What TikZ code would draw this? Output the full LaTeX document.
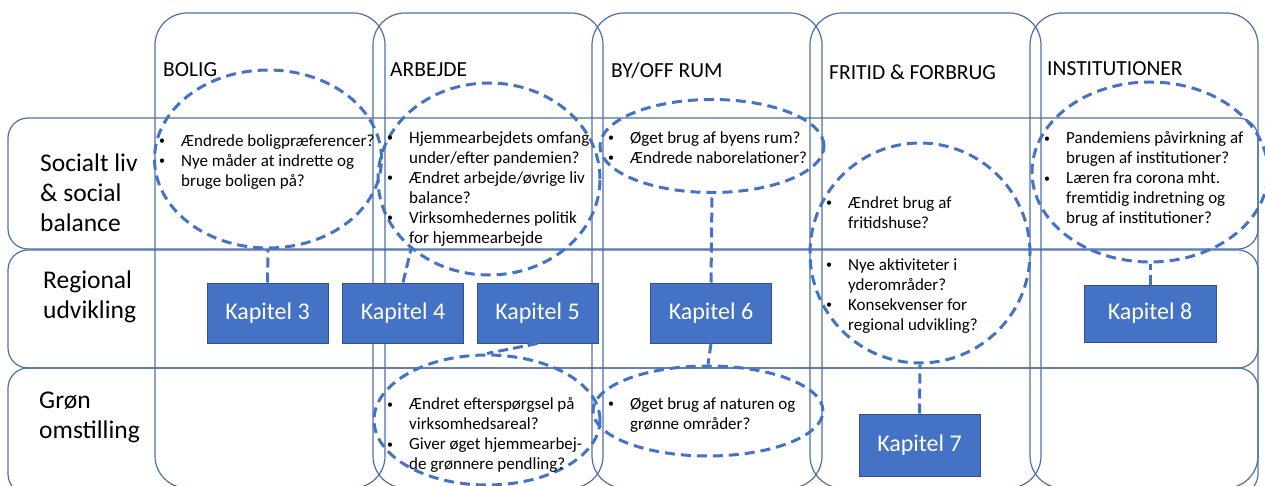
\documentclass[tikz,border=0pt]{standalone}
\usepackage{fontspec}
\setmainfont{Carlito}
\usetikzlibrary{shapes.geometric,positioning}
\definecolor{kapblue}{HTML}{4472C4}
\definecolor{kapline}{HTML}{2F528F}
\definecolor{gridline}{HTML}{4E6EA6}
\newcommand{\pkt}{\llap{\raisebox{1.2pt}{\fontsize{12}{12}\selectfont\textbullet}\hspace{16pt}}}

\begin{document}
\begin{tikzpicture}[x=1pt,y=1pt,
    band/.style={draw=gridline, line width=1.2pt},
    tema/.style={ellipse, draw=kapblue, line width=3pt, dash pattern=on 10pt off 6pt},
    link/.style={draw=kapblue, line width=3pt, dash pattern=on 10pt off 5pt},
    kap/.style={rectangle, fill=kapblue, draw=kapline, line width=1pt, text=white,
      font=\fontsize{24}{28}\selectfont, minimum width=121pt, minimum height=60pt},
    punkt/.style={anchor=north west, align=left, font=\fontsize{17}{20}\selectfont},
    rowlbl/.style={anchor=west, align=left, font=\fontsize{25.5}{30}\selectfont},
    colhead/.style={anchor=west, font=\fontsize{21.5}{24}\selectfont}]
                \tikzstyle{every node}+=[inner sep=0pt]
                \useasboundingbox (0,0) rectangle (1265,-486);
                \clip (0,0) rectangle (1265,-486);
                \draw [band, rounded corners=20pt] (8,-118) rectangle (1258,-249);
                \draw [band, rounded corners=20pt] (8,-250) rectangle (1258,-368);
                \draw [band, rounded corners=20pt] (8,-368) rectangle (1258,-494);
                \draw [band, rounded corners=32pt] (155,-13) rectangle (385,-488);
                \draw [band, rounded corners=32pt] (373,-13) rectangle (603,-488);
                \draw [band, rounded corners=32pt] (592,-13) rectangle (822,-488);
                \draw [band, rounded corners=32pt] (810,-13) rectangle (1041,-488);
                \draw [band, rounded corners=32pt] (1030,-13) rectangle (1258,-488);
                \node [rowlbl] (socialt) at (40,-193) {Socialt liv\\\& social\\balance};
                \node [rowlbl] (regional) at (43,-297) {Regional\\udvikling};
                \node [rowlbl] (groen) at (39,-417) {Grøn\\omstilling};
                \node [colhead] (bolig) at (163,-70) {BOLIG};
                \node [colhead] (arbejde) at (390,-70) {ARBEJDE};
                \node [colhead] (byrum) at (611,-70) {BY/OFF RUM};
                \node [colhead] (fritid) at (829,-72) {FRITID \& FORBRUG};
                \node [colhead] (inst) at (1047,-69) {INSTITUTIONER};
                \node [tema, minimum width=227pt, minimum height=178pt] (eBolig) at (268,-159) {};
                \node [tema, minimum width=222pt, minimum height=192pt] (eArbejde) at (489,-179) {};
                \node [tema, minimum width=224pt, minimum height=93pt] (eByrum) at (712,-146) {};
                \node [tema, minimum width=220pt, minimum height=220pt] (eFritid) at (920,-253) {};
                \node [tema, minimum width=236pt, minimum height=180pt] (eInst) at (1150,-172) {};
                \node [tema, minimum width=226pt, minimum height=130pt] (eGronArb) at (487,-420) {};
                \node [tema, minimum width=230pt, minimum height=90pt] (eGronBy) at (708,-411) {};
                \node [punkt] (tBolig) at (181,-134) {\pkt Ændrede boligpræferencer?\\\pkt Nye måder at indrette og\\bruge boligen på?};
                \node [punkt] (tArbejde) at (409,-131) {\pkt Hjemmearbejdets omfang\\under/efter pandemien?\\\pkt Ændret arbejde/øvrige liv\\balance?\\\pkt Virksomhedernes politik\\for hjemmearbejde};
                \node [punkt] (tByrum) at (630,-131) {\pkt Øget brug af byens rum?\\\pkt Ændrede naborelationer?};
                \node [punkt] (tFritidA) at (848,-196) {\pkt Ændret brug af\\fritidshuse?};
                \node [punkt] (tFritidB) at (848,-258) {\pkt Nye aktiviteter i\\yderområder?\\\pkt Konsekvenser for\\regional udvikling?};
                \node [punkt] (tInst) at (1066,-131) {\pkt Pandemiens påvirkning af\\brugen af institutioner?\\\pkt Læren fra corona mht.\\fremtidig indretning og\\brug af institutioner?};
                \node [punkt] (tGronArb) at (409,-397) {\pkt Ændret efterspørgsel på\\virksomhedsareal?\\\pkt Giver øget hjemmearbej-\\de grønnere pendling?};
                \node [punkt] (tGronBy) at (630,-397) {\pkt Øget brug af naturen og\\grønne områder?};
                \node [kap] (kap3) at (267.5,-313) {Kapitel 3};
                \node [kap] (kap4) at (403,-313) {Kapitel 4};
                \node [kap] (kap5) at (537.5,-313) {Kapitel 5};
                \node [kap] (kap6) at (711,-313) {Kapitel 6};
                \node [kap, minimum height=62pt] (kap7) at (919.5,-445) {Kapitel 7};
                \node [kap, minimum width=132pt, minimum height=57pt] (kap8) at (1150,-313.5) {Kapitel 8};
                \draw [link] (kap3.north) -- (eBolig.south);
                \draw [link] (kap4.north) -- (eArbejde.222);
                \draw [link] (kap5.south) -- (eGronArb.north);
                \draw [link] (kap6.north) -- (eByrum.south);
                \draw [link] (kap6.south) -- (eGronBy.north);
                \draw [link] (kap7.north) -- (eFritid.south);
                \draw [link] (kap8.north) -- (eInst.south);
\end{tikzpicture}
\end{document}
